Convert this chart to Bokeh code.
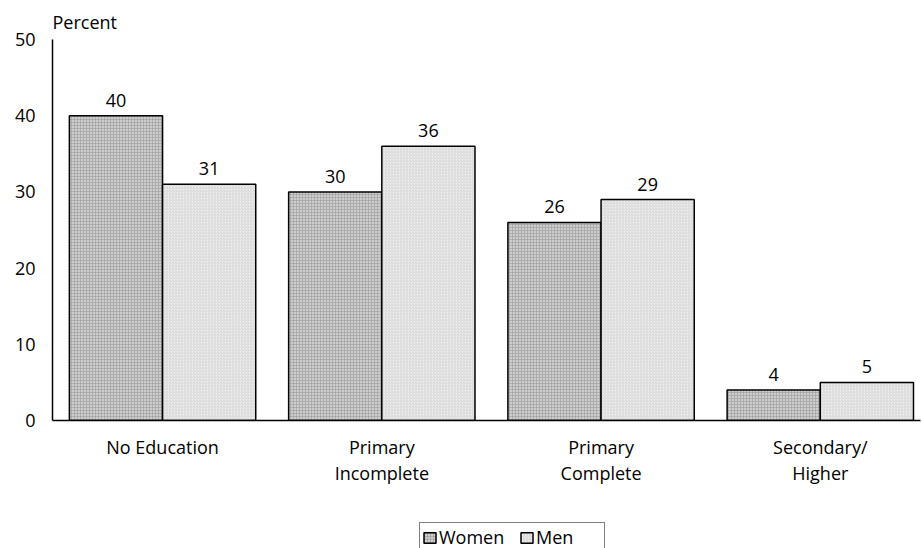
from bokeh.plotting import figure
from bokeh.layouts import column
from bokeh.models import Range1d, FixedTicker, Legend, LegendItem, ColumnDataSource
from bokeh.transform import dodge
from bokeh.core.properties import value
from bokeh.embed import file_html
from bokeh.resources import INLINE

categories = ["No Education", "Primary\nIncomplete", "Primary\nComplete", "Secondary/\nHigher"]
women = [40, 30, 26, 4]
men = [31, 36, 29, 5]
y_ticks = [0, 10, 20, 30, 40, 50]
series_names = ["Women", "Men"]

FONT = "Open Sans"
W = 0.425
WOMEN_STYLE = dict(fill_color="#cdcdcd", line_color="black", line_width=1.5,
                   hatch_pattern="cross", hatch_scale=3, hatch_color="#9a9a9a", hatch_weight=0.6)
MEN_STYLE = dict(fill_color="#efefef", line_color="black", line_width=1.5,
                 hatch_pattern="right_diagonal_line", hatch_scale=3, hatch_color="#c4c4c4", hatch_weight=0.6)

x = list(range(len(categories)))
src = ColumnDataSource(dict(x=x, women=women, men=men,
                            wl=[str(v) for v in women], ml=[str(v) for v in men]))

p = figure(width=922, height=500, x_range=Range1d(-0.502, 3.457), y_range=Range1d(0, 50),
           output_backend="svg", toolbar_location=None,
           min_border_left=52, min_border_right=2, min_border_top=39, min_border_bottom=80)
p.title.text = "Percent"
p.title.text_font = FONT
p.title.text_font_size = "18px"
p.title.text_font_style = "normal"
p.title.text_color = "black"
p.title.standoff = 12
p.title.offset = 0

p.vbar(x=dodge('x', -W / 2, range=p.x_range), top='women', width=W, source=src, **WOMEN_STYLE)
p.vbar(x=dodge('x', W / 2, range=p.x_range), top='men', width=W, source=src, **MEN_STYLE)

for col, lab, off in (("women", "wl", -W / 2), ("men", "ml", W / 2)):
    p.text(x=dodge('x', off, range=p.x_range), y=col, text=lab, source=src,
           text_align="center", text_baseline="bottom", y_offset=-9,
           text_font=value(FONT), text_font_size="18px", text_color="black")

p.xaxis.ticker = FixedTicker(ticks=x)
p.xaxis.major_label_overrides = {i: c for i, c in enumerate(categories)}
p.yaxis.ticker = FixedTicker(ticks=y_ticks)
for ax in (p.xaxis, p.yaxis):
    ax.major_tick_line_color = None
    ax.minor_tick_line_color = None
    ax.axis_line_color = "black"
    ax.axis_line_width = 1.5
    ax.major_label_text_font = FONT
    ax.major_label_text_font_size = "18px"
    ax.major_label_text_color = "black"
p.yaxis.major_label_standoff = 11
p.xaxis.major_label_standoff = 8
p.xaxis.major_label_text_line_height = 1.1
p.xgrid.visible = False
p.ygrid.visible = False
p.outline_line_color = None

# legend strip below the chart (its bars lie outside its visible range)
lf = figure(width=922, height=60, x_range=Range1d(0, 1), y_range=Range1d(1000, 1001),
            output_backend="svg", toolbar_location=None,
            x_axis_location=None, y_axis_location=None,
            min_border_left=0, min_border_right=0, min_border_top=0, min_border_bottom=0)
lf.grid.visible = False
lf.outline_line_color = None
lw = lf.vbar(x='x', top='women', width=W, source=src, **WOMEN_STYLE)
lm = lf.vbar(x='x', top='men', width=W, source=src, **MEN_STYLE)
legend = Legend(items=[LegendItem(label=series_names[0], renderers=[lw]),
                       LegendItem(label=series_names[1], renderers=[lm])],
                orientation="horizontal", location=(367, 8),
                border_line_color="black", border_line_width=1,
                label_text_font=FONT, label_text_font_size="18px", label_text_color="black",
                glyph_width=15, glyph_height=13, spacing=14, padding=2, margin=0,
                label_standoff=2, label_width=66, background_fill_alpha=1)
lf.add_layout(legend)

open("out.html", "w").write(file_html(column(p, lf, spacing=0), INLINE))
